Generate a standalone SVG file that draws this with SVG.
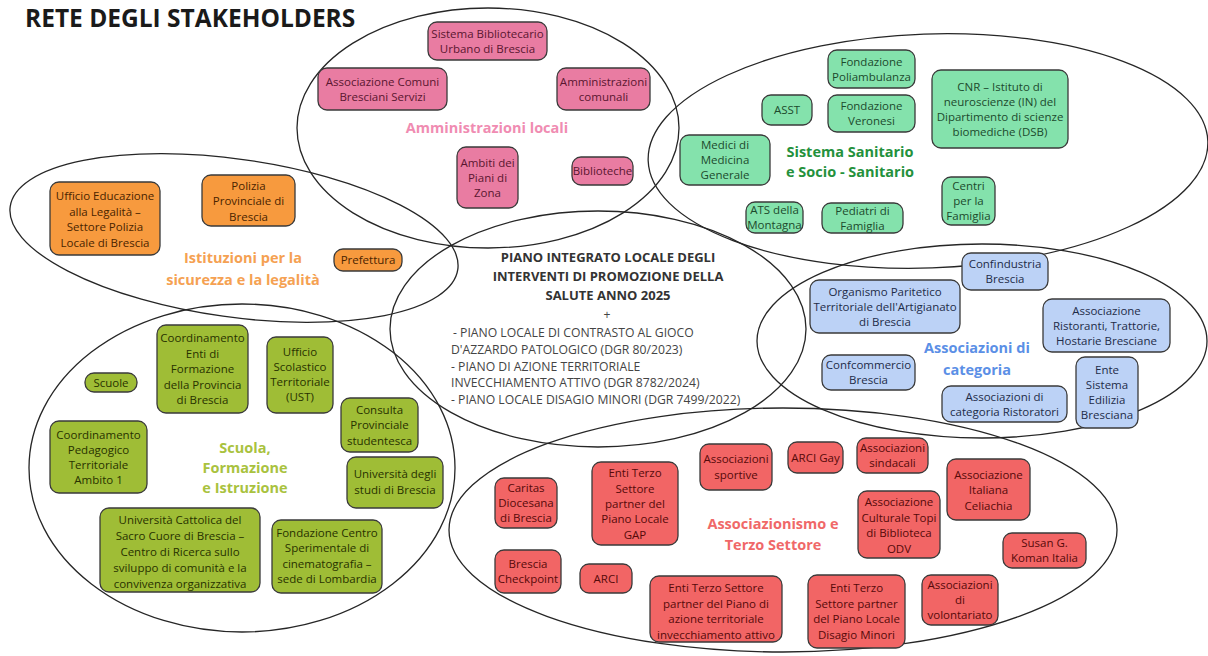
<svg xmlns="http://www.w3.org/2000/svg" width="1208" height="656" viewBox="0 0 1208 656">
<style>
text{font-family:"Open Sans","Noto Sans","DejaVu Sans",sans-serif}
.e{fill:none;stroke:#262626;stroke-width:1.3}
.n rect{stroke:#3a3a3a;stroke-width:1.3}
.n text{font-size:11.5px;text-anchor:middle}
.lbl{font-weight:bold;font-size:14.5px;text-anchor:middle}
.pk rect{fill:#e97ca2}.pk text{fill:#5a1630}
.gr rect{fill:#84e2ac}.gr text{fill:#1c4a2c}
.or rect{fill:#f79a3e}.or text{fill:#4a2400}
.bl rect{fill:#bcd2f6}.bl text{fill:#1e2c48}
.ol rect{fill:#9fbd36}.ol text{fill:#283200}
.rd rect{fill:#f26565}.rd text{fill:#560a0a}
.ct{font-size:13px;font-weight:bold;fill:#333;text-anchor:middle}
.cs{font-size:12.2px;fill:#444}
</style>
<rect width="1208" height="656" fill="#ffffff"/>
<text x="25" y="27" font-size="24.5" font-weight="bold" fill="#1a1a1a">RETE DEGLI STAKEHOLDERS</text>
<g id="ellipses">
<ellipse class="e" cx="488" cy="128" rx="191" ry="120"/>
<ellipse class="e" cx="928" cy="151" rx="280" ry="117" transform="rotate(-2 928 151)"/>
<ellipse class="e" cx="234" cy="238" rx="226" ry="79" transform="rotate(8 234 238)"/>
<ellipse class="e" cx="598" cy="329" rx="208" ry="118"/>
<ellipse class="e" cx="982" cy="341" rx="225" ry="97"/>
<ellipse class="e" cx="242" cy="468" rx="213" ry="164"/>
<ellipse class="e" cx="783" cy="530" rx="334" ry="122"/>
</g>
<g id="labels">
<text class="lbl" x="487" y="133" fill="#f08cb2">Amministrazioni locali</text>
<text class="lbl" x="850" y="157" fill="#24913c">Sistema Sanitario</text>
<text class="lbl" x="850" y="177" fill="#24913c">e Socio - Sanitario</text>
<text class="lbl" x="243" y="263" fill="#f5a152">Istituzioni per la</text>
<text class="lbl" x="243" y="285" fill="#f5a152">sicurezza e la legalità</text>
<text class="lbl" x="977" y="353" fill="#5b8fe6">Associazioni di</text>
<text class="lbl" x="977" y="375" fill="#5b8fe6">categoria</text>
<text class="lbl" x="245" y="453" fill="#a9c23e">Scuola,</text>
<text class="lbl" x="245" y="473" fill="#a9c23e">Formazione</text>
<text class="lbl" x="245" y="493" fill="#a9c23e">e Istruzione</text>
<text class="lbl" x="773" y="529" fill="#f06868">Associazionismo e</text>
<text class="lbl" x="773" y="550" fill="#f06868">Terzo Settore</text>
</g>
<g id="center">
<text class="ct" x="608" y="262">PIANO INTEGRATO LOCALE DEGLI</text>
<text class="ct" x="608" y="281">INTERVENTI DI PROMOZIONE DELLA</text>
<text class="ct" x="608" y="300">SALUTE ANNO 2025</text>
<text class="cs" x="607" y="319" text-anchor="middle" font-size="9">+</text>
<text class="cs" x="453" y="337"> - PIANO LOCALE DI CONTRASTO AL GIOCO</text>
<text class="cs" x="451" y="354">D'AZZARDO PATOLOGICO (DGR 80/2023)</text>
<text class="cs" x="451" y="371">- PIANO DI AZIONE TERRITORIALE</text>
<text class="cs" x="451" y="387">INVECCHIAMENTO ATTIVO (DGR 8782/2024)</text>
<text class="cs" x="451" y="404">- PIANO LOCALE DISAGIO MINORI (DGR 7499/2022)</text>
</g>
<!-- Amministrazioni locali -->
<g id="n1" class="n pk"><rect x="428" y="22" width="119" height="38" rx="9"/><text x="487.5" y="37.5">Sistema Bibliotecario</text><text x="487.5" y="52.5">Urbano di Brescia</text></g>
<g id="n2" class="n pk"><rect x="318" y="68" width="129" height="42" rx="9"/><text x="382.5" y="85.5">Associazione Comuni</text><text x="382.5" y="100.5">Bresciani Servizi</text></g>
<g id="n3" class="n pk"><rect x="557" y="68" width="93" height="42" rx="9"/><text x="603.5" y="85.5">Amministrazioni</text><text x="603.5" y="100.5">comunali</text></g>
<g id="n4" class="n pk"><rect x="457" y="147" width="61" height="61" rx="9"/><text x="487.5" y="166.5">Ambiti dei</text><text x="487.5" y="181.5">Piani di</text><text x="487.5" y="196.5">Zona</text></g>
<g id="n5" class="n pk"><rect x="572" y="157" width="61" height="28" rx="9"/><text x="602.5" y="175">Biblioteche</text></g>
<!-- Sanitario -->
<g id="n6" class="n gr"><rect x="828" y="50" width="87" height="38" rx="9"/><text x="871.5" y="65.5">Fondazione</text><text x="871.5" y="80.5">Poliambulanza</text></g>
<g id="n7" class="n gr"><rect x="762" y="95" width="50" height="30" rx="9"/><text x="787" y="114">ASST</text></g>
<g id="n8" class="n gr"><rect x="828" y="95" width="87" height="37" rx="9"/><text x="871.5" y="110">Fondazione</text><text x="871.5" y="125">Veronesi</text></g>
<g id="n9" class="n gr"><rect x="932" y="70" width="136" height="78" rx="9"/><text x="1000" y="90.5">CNR – Istituto di</text><text x="1000" y="105.5">neuroscienze (IN) del</text><text x="1000" y="120.5">Dipartimento di scienze</text><text x="1000" y="135.5">biomediche (DSB)</text></g>
<g id="n10" class="n gr"><rect x="680" y="135" width="90" height="50" rx="9"/><text x="725" y="149">Medici di</text><text x="725" y="164">Medicina</text><text x="725" y="179">Generale</text></g>
<g id="n11" class="n gr"><rect x="942" y="177" width="53" height="48" rx="9"/><text x="968.5" y="190">Centri</text><text x="968.5" y="205">per la</text><text x="968.5" y="220">Famiglia</text></g>
<g id="n12" class="n gr"><rect x="746" y="202" width="57" height="31" rx="9"/><text x="774.5" y="214">ATS della</text><text x="774.5" y="229">Montagna</text></g>
<g id="n13" class="n gr"><rect x="822" y="203" width="81" height="30" rx="9"/><text x="862.5" y="214.5">Pediatri di</text><text x="862.5" y="229.5">Famiglia</text></g>
<!-- Istituzioni -->
<g id="n14" class="n or"><rect x="50" y="182" width="110" height="73" rx="9"/><text x="105" y="200">Ufficio Educazione</text><text x="105" y="215.5">alla Legalità –</text><text x="105" y="231">Settore Polizia</text><text x="105" y="246.5">Locale di Brescia</text></g>
<g id="n15" class="n or"><rect x="202" y="175" width="93" height="51" rx="9"/><text x="248.5" y="189.5">Polizia</text><text x="248.5" y="205">Provinciale di</text><text x="248.5" y="220.5">Brescia</text></g>
<g id="n16" class="n or"><rect x="334" y="249" width="68" height="22" rx="9"/><text x="368" y="264">Prefettura</text></g>
<!-- Associazioni di categoria -->
<g id="n17" class="n bl"><rect x="962" y="253" width="86" height="37" rx="9"/><text x="1005" y="268">Confindustria</text><text x="1005" y="283">Brescia</text></g>
<g id="n18" class="n bl"><rect x="810" y="280" width="150" height="53" rx="9"/><text x="885" y="295.5">Organismo Paritetico</text><text x="885" y="310.5">Territoriale dell'Artigianato</text><text x="885" y="325.5">di Brescia</text></g>
<g id="n19" class="n bl"><rect x="1043" y="299" width="127" height="53" rx="9"/><text x="1106.5" y="314.5">Associazione</text><text x="1106.5" y="329.5">Ristoranti, Trattorie,</text><text x="1106.5" y="344.5">Hostarie Bresciane</text></g>
<g id="n20" class="n bl"><rect x="822" y="355" width="93" height="35" rx="9"/><text x="868.5" y="369">Confcommercio</text><text x="868.5" y="384">Brescia</text></g>
<g id="n21" class="n bl"><rect x="942" y="386" width="125" height="36" rx="9"/><text x="1004.5" y="400.5">Associazioni di</text><text x="1004.5" y="415.5">categoria Ristoratori</text></g>
<g id="n22" class="n bl"><rect x="1076" y="357" width="62" height="71" rx="9"/><text x="1107" y="374">Ente</text><text x="1107" y="389">Sistema</text><text x="1107" y="404">Edilizia</text><text x="1107" y="419">Bresciana</text></g>
<!-- Scuola -->
<g id="n23" class="n ol"><rect x="85" y="373" width="52" height="19" rx="9"/><text x="111" y="386.5">Scuole</text></g>
<g id="n24" class="n ol"><rect x="157" y="325" width="91" height="88" rx="9"/><text x="202.5" y="342">Coordinamento</text><text x="202.5" y="357.5">Enti di</text><text x="202.5" y="373">Formazione</text><text x="202.5" y="388.5">della Provincia</text><text x="202.5" y="404">di Brescia</text></g>
<g id="n25" class="n ol"><rect x="267" y="337" width="66" height="76" rx="9"/><text x="300" y="356">Ufficio</text><text x="300" y="371">Scolastico</text><text x="300" y="386">Territoriale</text><text x="300" y="401">(UST)</text></g>
<g id="n26" class="n ol"><rect x="341" y="398" width="77" height="54" rx="9"/><text x="379.5" y="413.5">Consulta</text><text x="379.5" y="429">Provinciale</text><text x="379.5" y="444.5">studentesca</text></g>
<g id="n27" class="n ol"><rect x="50" y="421" width="97" height="72" rx="9"/><text x="98.5" y="439">Coordinamento</text><text x="98.5" y="454">Pedagogico</text><text x="98.5" y="469">Territoriale</text><text x="98.5" y="484">Ambito 1</text></g>
<g id="n28" class="n ol"><rect x="347" y="457" width="96" height="51" rx="9"/><text x="395" y="478">Università degli</text><text x="395" y="494">studi di Brescia</text></g>
<g id="n29" class="n ol"><rect x="100" y="508" width="160" height="84" rx="9"/><text x="180" y="524">Università Cattolica del</text><text x="180" y="540">Sacro Cuore di Brescia –</text><text x="180" y="556">Centro di Ricerca sullo</text><text x="180" y="572">sviluppo di comunità e la</text><text x="180" y="588">convivenza organizzativa</text></g>
<g id="n30" class="n ol"><rect x="272" y="520" width="110" height="73" rx="9"/><text x="327" y="536.5">Fondazione Centro</text><text x="327" y="552">Sperimentale di</text><text x="327" y="567.5">cinematografia –</text><text x="327" y="583">sede di Lombardia</text></g>
<!-- Associazionismo -->
<g id="n31" class="n rd"><rect x="495" y="478" width="62" height="50" rx="9"/><text x="526" y="492">Caritas</text><text x="526" y="507">Diocesana</text><text x="526" y="522">di Brescia</text></g>
<g id="n32" class="n rd"><rect x="592" y="462" width="86" height="83" rx="9"/><text x="635" y="477">Enti Terzo</text><text x="635" y="493">Settore</text><text x="635" y="508">partner del</text><text x="635" y="523">Piano Locale</text><text x="635" y="539">GAP</text></g>
<g id="n33" class="n rd"><rect x="700" y="444" width="72" height="46" rx="9"/><text x="736" y="463">Associazioni</text><text x="736" y="479">sportive</text></g>
<g id="n34" class="n rd"><rect x="788" y="442" width="55" height="31" rx="9"/><text x="815.5" y="461.5">ARCI Gay</text></g>
<g id="n35" class="n rd"><rect x="857" y="438" width="71" height="35" rx="9"/><text x="892.5" y="452">Associazioni</text><text x="892.5" y="467">sindacali</text></g>
<g id="n36" class="n rd"><rect x="947" y="459" width="83" height="61" rx="9"/><text x="988.5" y="478.5">Associazione</text><text x="988.5" y="494">Italiana</text><text x="988.5" y="509.5">Celiachia</text></g>
<g id="n37" class="n rd"><rect x="858" y="491" width="82" height="67" rx="9"/><text x="899" y="506">Associazione</text><text x="899" y="521.5">Culturale Topi</text><text x="899" y="537">di Biblioteca</text><text x="899" y="552.5">ODV</text></g>
<g id="n38" class="n rd"><rect x="1003" y="533" width="83" height="35" rx="9"/><text x="1044.5" y="547">Susan G.</text><text x="1044.5" y="562">Koman Italia</text></g>
<g id="n39" class="n rd"><rect x="495" y="550" width="66" height="43" rx="9"/><text x="528" y="568">Brescia</text><text x="528" y="583">Checkpoint</text></g>
<g id="n40" class="n rd"><rect x="580" y="564" width="52" height="29" rx="9"/><text x="606" y="582.5">ARCI</text></g>
<g id="n41" class="n rd"><rect x="650" y="576" width="132" height="66" rx="9"/><text x="716" y="592">Enti Terzo Settore</text><text x="716" y="607.5">partner del Piano di</text><text x="716" y="623">azione territoriale</text><text x="716" y="638.5">invecchiamento attivo</text></g>
<g id="n42" class="n rd"><rect x="808" y="575" width="97" height="73" rx="9"/><text x="856.5" y="592">Enti Terzo</text><text x="856.5" y="607.5">Settore partner</text><text x="856.5" y="623">del Piano Locale</text><text x="856.5" y="638.5">Disagio Minori</text></g>
<g id="n43" class="n rd"><rect x="922" y="575" width="76" height="50" rx="9"/><text x="960" y="589">Associazioni</text><text x="960" y="604">di</text><text x="960" y="619">volontariato</text></g>
</svg>
